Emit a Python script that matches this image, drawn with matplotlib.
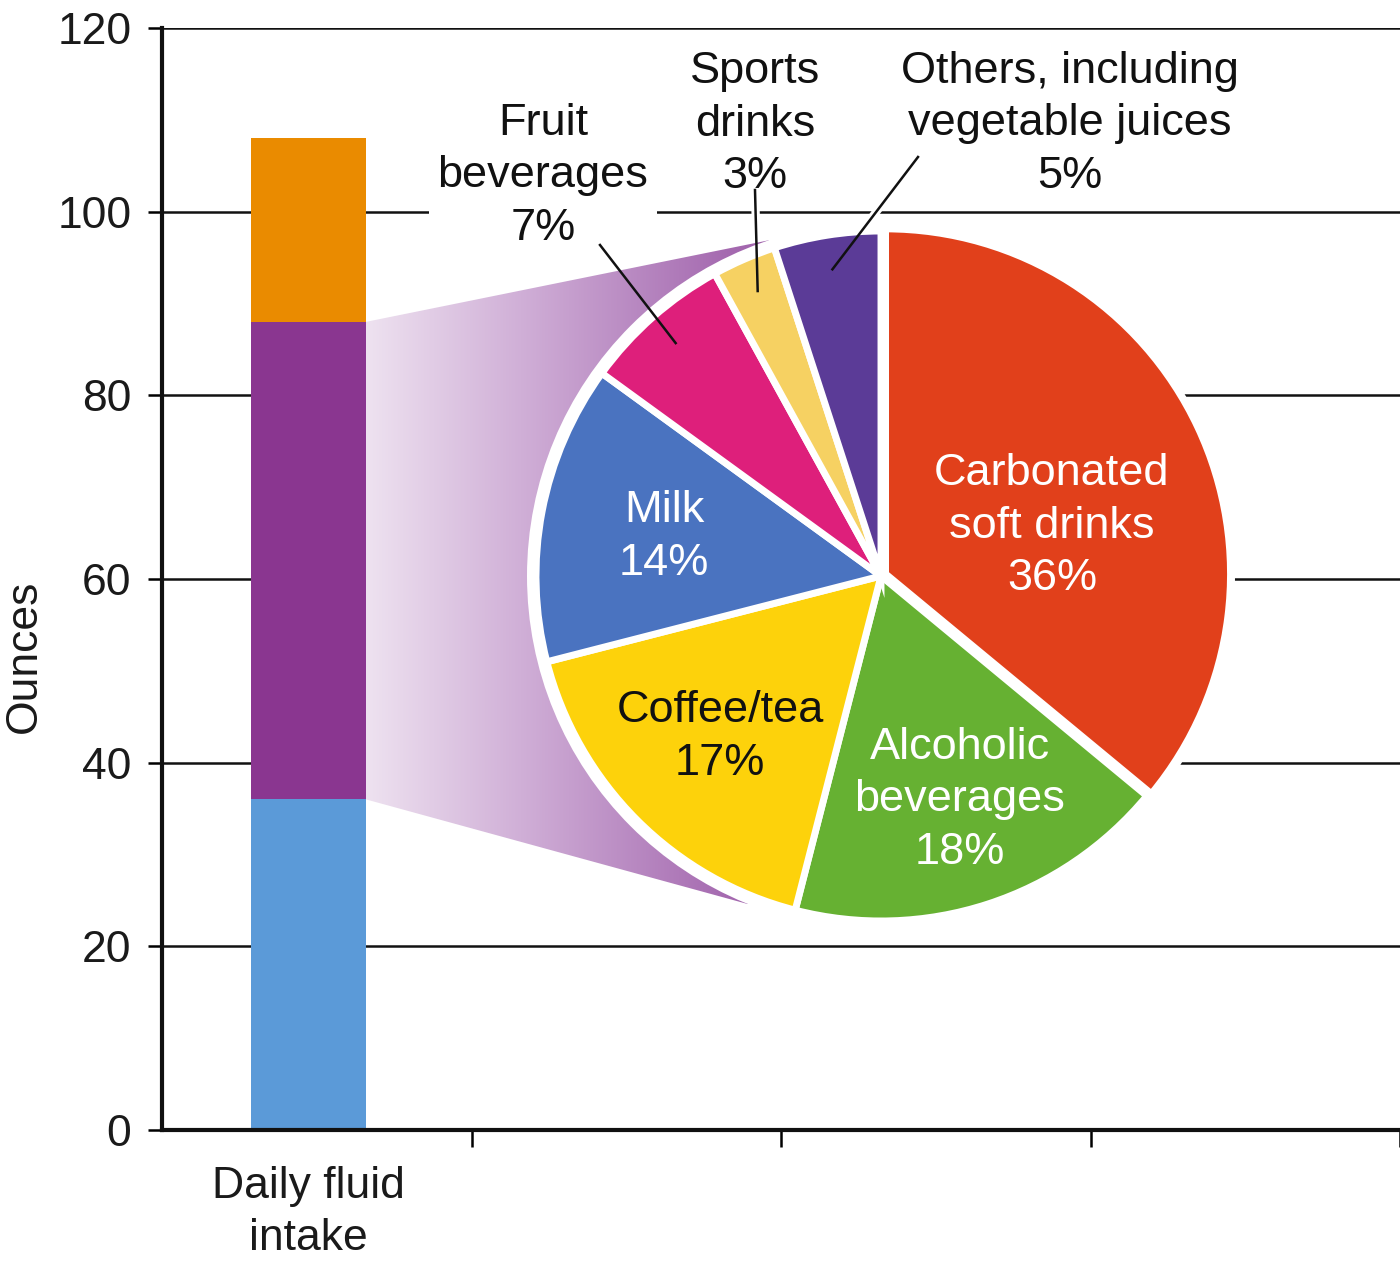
import numpy as np
import matplotlib
matplotlib.use('Agg')
import matplotlib.pyplot as plt
from matplotlib.colors import LinearSegmentedColormap
from matplotlib.patches import Polygon, Circle

plt.rcParams['font.family'] = ['Liberation Sans', 'DejaVu Sans']

# stacked bar: daily fluid intake in ounces, bottom to top
bar_label = 'Daily fluid\nintake'
bar_segments = [36, 52, 20]
bar_colors = ['#5b9ad8', '#8a3690', '#ea8b00']

# breakdown of the beverage part (purple segment)
drink_names = ['Carbonated\nsoft drinks', 'Alcoholic\nbeverages', 'Coffee/tea', 'Milk',
               'Fruit\nbeverages', 'Sports\ndrinks', 'Others, including\nvegetable juices']
drink_shares = [36, 18, 17, 14, 7, 3, 5]
drink_colors = ['#e1401b', '#66b132', '#fdd20b', '#4a73c0', '#de1f7b', '#f6d162', '#5b3b97']
drink_text_colors = ['white', 'white', '#111111', 'white', '#111111', '#111111', '#111111']

y_ticks = [0, 20, 40, 60, 80, 100, 120]
x_ticks = [1, 2, 3, 4]

FS = 32
FS_LBL = 32.5
LS = 1.36
W, H = 1400, 1264

fig = plt.figure(figsize=(W / 100, H / 100), dpi=100)

# ---- main axes with the stacked bar ----
ax = fig.add_axes([162 / W, 134 / H, 1238 / W, 1102 / H])
ax.set_xlim(0, 4)
ax.set_ylim(0, 120)
bar_x, bar_w = 0.473, 0.372
bottoms = np.cumsum([0] + bar_segments[:-1])
ax.bar([bar_x] * len(bar_segments), bar_segments, bottom=bottoms, width=bar_w,
       color=bar_colors, zorder=3)

ax.set_yticks(y_ticks)
ax.set_xticks(x_ticks)
ax.set_xticklabels([])
ax.tick_params(axis='y', length=10, width=1.8, pad=12, labelsize=FS, labelcolor='#1a1a1a')
ax.tick_params(axis='x', length=12, width=1.8)
ax.grid(axis='y', color='#111111', lw=1.8, zorder=0)
ax.set_axisbelow(True)
for s in ['top', 'right']:
    ax.spines[s].set_visible(False)
for s in ['left', 'bottom']:
    ax.spines[s].set_linewidth(3)
    ax.spines[s].set_color('#111111')
    ax.spines[s].set_zorder(5)

ax.text(-0.111, 0.43, 'Ounces', rotation=90, ha='center', va='center',
        fontsize=FS, color='#1a1a1a', transform=ax.transAxes)
ax.text(bar_x, -0.075, bar_label, ha='center', va='center', fontsize=FS,
        color='#1a1a1a', linespacing=LS, transform=ax.get_xaxis_transform())

# ---- overlay in pixel units for the pie and the funnel ----
ov = fig.add_axes([0, 0, 1, 1])
ov.set_xlim(0, W)
ov.set_ylim(0, H)
cx, cy, R = 881, 688, 345
halo = R + 9

wedges, _ = ov.pie(drink_shares, colors=drink_colors, startangle=90, counterclock=False,
                   radius=R, center=(cx, cy), explode=[5, 0, 0, 0, 0, 0, 0],
                   wedgeprops=dict(edgecolor='white', linewidth=5), frame=True)
for w in wedges:
    w.set_zorder(4)
ov.set_xlim(0, W)
ov.set_ylim(0, H)

ov.add_patch(Circle((cx, cy), halo, fc='white', ec='none', zorder=3))

# funnel from the purple segment towards the pie
to_ov = ov.transData.inverted()
bar_right = bar_x + bar_w / 2
p_top = to_ov.transform(ax.transData.transform((bar_right, bar_segments[0] + bar_segments[1])))
p_bot = to_ov.transform(ax.transData.transform((bar_right, bar_segments[0])))
a_top, a_bot = np.radians(108.5), np.radians(248)
tip_top = (cx + halo * np.cos(a_top), cy + halo * np.sin(a_top))
tip_bot = (cx + halo * np.cos(a_bot), cy + halo * np.sin(a_bot))
funnel = Polygon([p_top, tip_top, (cx, cy), tip_bot, p_bot], closed=True,
                 fc='none', ec='none')
ov.add_patch(funnel)
cmap = LinearSegmentedColormap.from_list('funnel', [(0, '#eee2f0'), (0.3, '#d0afd7'),
                                                    (0.7, '#a56ab0'), (1, '#9450a2')])
grad = np.linspace(0, 1, 256).reshape(1, -1)
im = ov.imshow(grad, cmap=cmap, extent=(p_top[0], cx, tip_bot[1], tip_top[1]),
               aspect='auto', zorder=2, interpolation='bilinear')
im.set_clip_path(funnel)

# labels inside the pie
inside = {0: (1052, 738), 1: (960, 464), 2: (720, 527), 3: (664, 727)}
for i, (tx, ty) in inside.items():
    ov.text(tx, ty, f'{drink_names[i]}\n{drink_shares[i]}%', ha='center', va='center',
            fontsize=FS_LBL, color=drink_text_colors[i], linespacing=LS, zorder=7)

# labels outside with leader lines
outside = {4: ((543, 1088), (600, 1019)), 5: ((755, 1140), (755, 1074)),
           6: ((1070, 1140), (918, 1107))}
ends = np.cumsum([0] + drink_shares[:-1])
for i, ((tx, ty), (lx, ly)) in outside.items():
    mid = np.radians(90 - 3.6 * (ends[i] + drink_shares[i] / 2))
    ex, ey = cx + 0.9 * R * np.cos(mid), cy + 0.9 * R * np.sin(mid)
    ov.plot([lx, ex], [ly, ey], color='white', lw=6, zorder=1.5, solid_capstyle='butt')
    ov.plot([lx, ex], [ly, ey], color='#111111', lw=1.8, zorder=8)
    bbox = dict(boxstyle='square,pad=0.2', fc='white', ec='none') if i == 4 else None
    ov.text(tx, ty, f'{drink_names[i]}\n{drink_shares[i]}%', ha='center', va='center',
            fontsize=FS_LBL, color='#111111', linespacing=LS, zorder=7, bbox=bbox)

ov.set_xlim(0, W)
ov.set_ylim(0, H)
ov.axis('off')

fig.savefig('out.png', dpi=100)
